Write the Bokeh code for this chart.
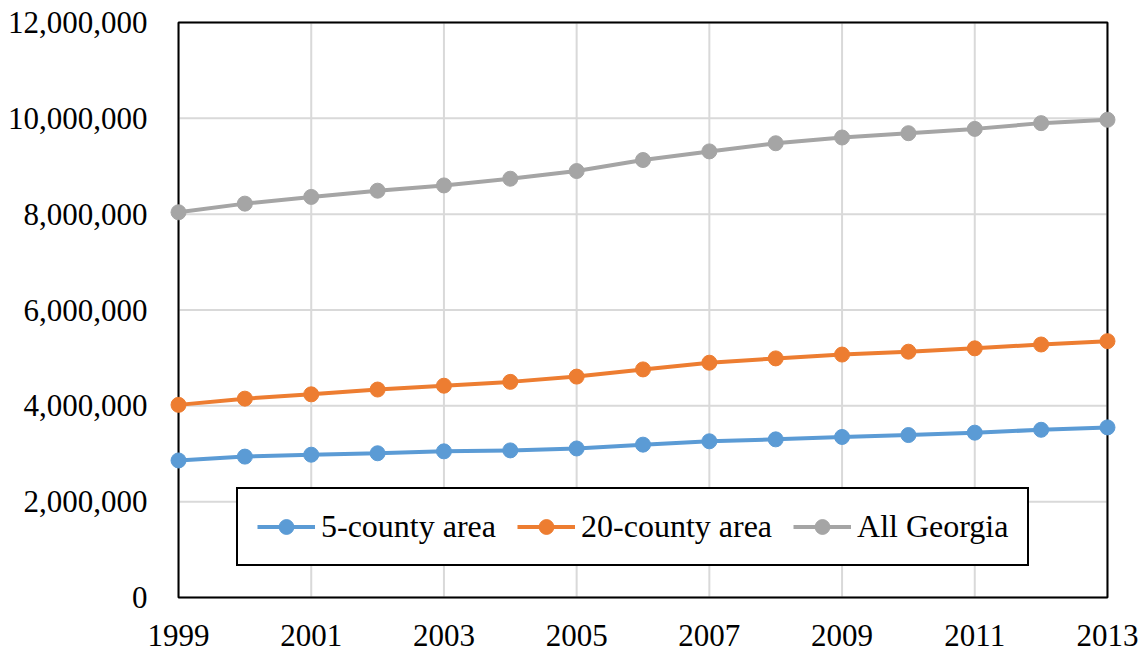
from bokeh.plotting import figure
from bokeh.models import Range1d, FixedTicker, NumeralTickFormatter, Legend, LegendItem
from bokeh.embed import file_html
from bokeh.resources import INLINE

# Population estimates, 1999-2013
years = list(range(1999, 2014))
five_county = [2.86e6, 2.94e6, 2.98e6, 3.01e6, 3.05e6, 3.07e6, 3.11e6, 3.19e6,
               3.26e6, 3.30e6, 3.35e6, 3.39e6, 3.44e6, 3.50e6, 3.55e6]
twenty_county = [4.02e6, 4.15e6, 4.24e6, 4.34e6, 4.42e6, 4.50e6, 4.61e6, 4.76e6,
                 4.90e6, 4.99e6, 5.07e6, 5.13e6, 5.20e6, 5.28e6, 5.35e6]
all_georgia = [8.04e6, 8.22e6, 8.36e6, 8.49e6, 8.60e6, 8.74e6, 8.90e6, 9.13e6,
               9.31e6, 9.48e6, 9.60e6, 9.69e6, 9.78e6, 9.90e6, 9.97e6]

series_names = ["5-county area", "20-county area", "All Georgia"]
series_colors = ["#5B9BD5", "#ED7D31", "#A5A5A5"]

x_ticks = [1999, 2001, 2003, 2005, 2007, 2009, 2011, 2013]
y_ticks = [0, 2e6, 4e6, 6e6, 8e6, 10e6, 12e6]
x_min, x_max = 1999, 2013
y_min, y_max = 0, 12e6

FONT = "Liberation Serif"

# small padding so the end markers are not clipped by the frame
x_pad = 0.136
y_pad = 0.188e6

p = figure(width=1144, height=656, output_backend="svg", toolbar_location=None,
           x_range=Range1d(x_min - x_pad, x_max + x_pad),
           y_range=Range1d(y_min - y_pad, y_max + y_pad),
           min_border_left=169, min_border_right=28,
           min_border_top=13, min_border_bottom=50)
p.outline_line_color = None
p.xgrid.visible = False
p.ygrid.visible = False

for ax in (p.xaxis, p.yaxis):
    ax.axis_line_color = None
    ax.major_tick_line_color = None
    ax.minor_tick_line_color = None
    ax.major_label_text_font = FONT
    ax.major_label_text_font_size = "31px"
    ax.major_label_text_color = "black"

p.xaxis.ticker = FixedTicker(ticks=x_ticks)
p.yaxis.ticker = FixedTicker(ticks=y_ticks)
p.yaxis.formatter = NumeralTickFormatter(format="0,0")
p.xaxis.major_label_standoff = 12
p.yaxis.major_label_standoff = 16

# gridlines limited to the plot box
p.segment(x0=[x_min] * len(y_ticks), x1=[x_max] * len(y_ticks), y0=y_ticks, y1=y_ticks,
          line_color="#D9D9D9", line_width=2)
p.segment(x0=x_ticks, x1=x_ticks, y0=[y_min] * len(x_ticks), y1=[y_max] * len(x_ticks),
          line_color="#D9D9D9", line_width=2)

# plot box border
p.quad(left=[x_min], right=[x_max], bottom=[y_min], top=[y_max],
       fill_color=None, line_color="black", line_width=2)

items = []
for name, vals, col in zip(series_names, [five_county, twenty_county, all_georgia], series_colors):
    r1 = p.line(years, vals, line_color=col, line_width=4)
    r2 = p.scatter(years, vals, size=15, fill_color=col, line_color=col)
    items.append(LegendItem(label=name, renderers=[r1, r2]))

legend = Legend(items=items, orientation="horizontal", location=(67, 40),
                label_text_font=FONT, label_text_font_size="32px",
                label_text_color="black",
                glyph_width=58, glyph_height=37, label_standoff=6,
                spacing=21, padding=19, margin=0,
                border_line_color="black", border_line_width=2,
                border_line_alpha=1.0,
                background_fill_color="white", background_fill_alpha=1.0)
p.add_layout(legend, "center")

open("out.html", "w").write(file_html(p, INLINE))
